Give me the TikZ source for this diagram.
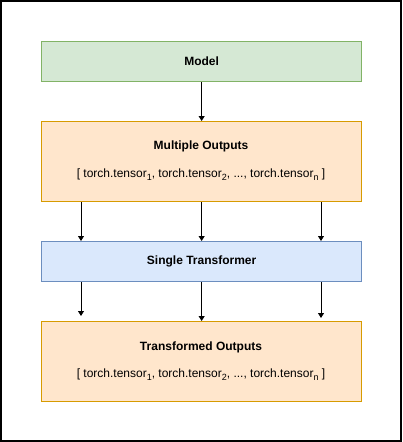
\documentclass[tikz,border=0pt]{standalone}
\usepackage{fontspec}
\setmainfont{Liberation Sans}
\usetikzlibrary{arrows.meta}
\definecolor{gfill}{HTML}{D5E8D4}\definecolor{gline}{HTML}{82B366}
\definecolor{ofill}{HTML}{FFE6CC}\definecolor{oline}{HTML}{D79B00}
\definecolor{bfill}{HTML}{DAE8FC}\definecolor{bline}{HTML}{6C8EBF}
\newcommand{\mysub}[1]{\raisebox{-3pt}{\fontsize{9}{9}\selectfont #1}}
\begin{document}
\begin{tikzpicture}[x=1pt,y=-1pt,
  box/.style={draw, line width=1.3pt, minimum width=320pt, inner sep=0pt, anchor=north west},
  greenbox/.style={box, fill=gfill, draw=gline, minimum height=40pt},
  orangebox/.style={box, fill=ofill, draw=oline, minimum height=80pt},
  bluebox/.style={box, fill=bfill, draw=bline, minimum height=40pt},
  lbl/.style={font=\fontsize{12}{14}\selectfont\bfseries},
  lst/.style={font=\fontsize{12}{14}\selectfont},
  arr/.style={-{Triangle[length=5pt,width=6pt]}, line width=0.9pt}]
\useasboundingbox (0,0) rectangle (402,442);
\draw[line width=1.4pt] (1,1) rectangle (401,441);
\node[greenbox] (model) at (41,41) {};
\node[lbl] at (model.center) {Model};
\node[orangebox] (multi) at (41,121) {};
\node[lbl] (multit) at (201,146) {Multiple Outputs};
\node[lst] (multil) at (201,175) {[ torch.tensor\mysub{1}, torch.tensor\mysub{2}, ..., torch.tensor\mysub{n} ]};
\node[bluebox] (single) at (41,241) {};
\node[lbl] at (single.center) {Single Transformer};
\node[orangebox] (trans) at (41,321) {};
\node[lbl] (transt) at (201,347) {Transformed Outputs};
\node[lst] (transl) at (201,375) {[ torch.tensor\mysub{1}, torch.tensor\mysub{2}, ..., torch.tensor\mysub{n} ]};
\draw[arr] (model.south) -- (multi.north);
\draw[arr] (multi.south -| 81,0) -- (single.north -| 81,0);
\draw[arr] (multi.south) -- (single.north);
\draw[arr] (multi.south -| 321,0) -- (single.north -| 321,0);
\coordinate (e1) at (81,316);
\coordinate (e3) at (321,318);
\draw[arr] (single.south -| e1) -- (e1);
\draw[arr] (single.south) -- (trans.north);
\draw[arr] (single.south -| e3) -- (e3);
\end{tikzpicture}
\end{document}
